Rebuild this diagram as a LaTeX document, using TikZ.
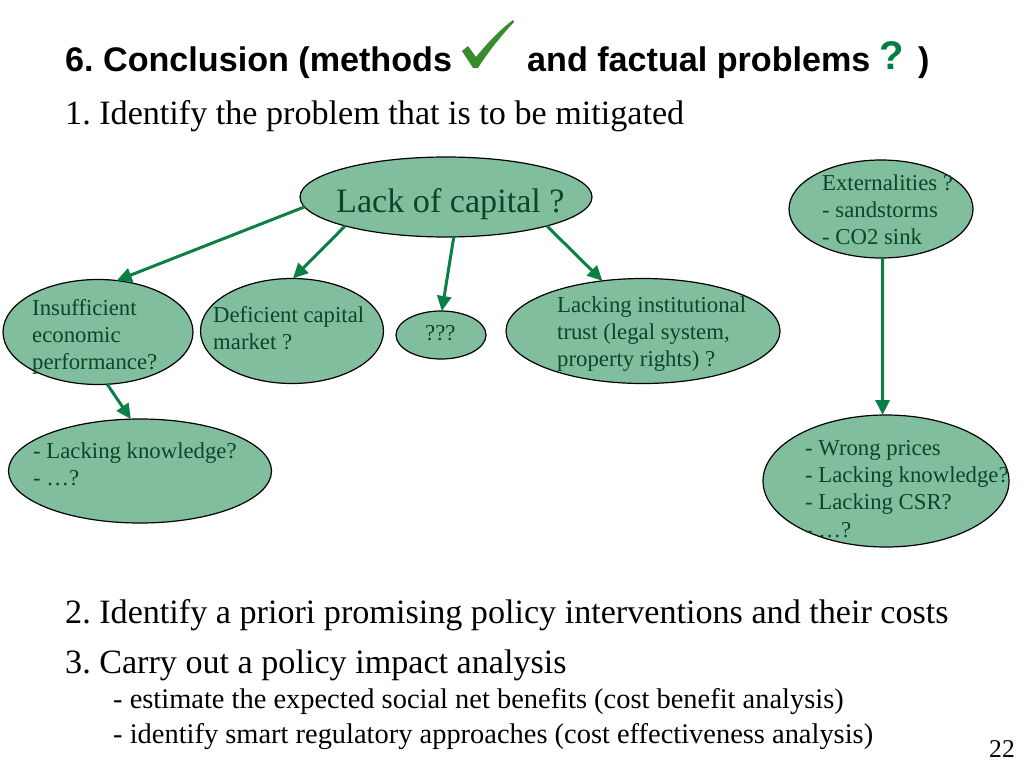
\documentclass[tikz,border=0pt]{standalone}
\usepackage{fontspec}
\setmainfont{Liberation Serif}
\newfontfamily\titlefont{Liberation Sans}
\usetikzlibrary{arrows.meta,shapes.geometric}
\definecolor{ellfill}{RGB}{128,190,158}
\definecolor{elltext}{RGB}{10,70,40}
\definecolor{arrowgreen}{RGB}{10,128,70}
\definecolor{checkgreen}{RGB}{55,140,45}
\definecolor{qgreen}{RGB}{0,125,65}
\newcommand\mlines[1]{\vtop{\halign{##\hfil\cr#1\crcr}}}
\frenchspacing
\begin{document}
\begin{tikzpicture}[x=1pt,y=-1pt,
  ell/.style={ellipse,draw=black,line width=1.2pt,fill=ellfill,inner sep=0pt,outer sep=0pt},
  etext/.style={anchor=base west,inner sep=0pt,text=elltext,font=\fontsize{22.75}{27.4}\selectfont},
  body/.style={anchor=base west,inner sep=0pt,font=\fontsize{34.13}{40}\selectfont},
  sub/.style={anchor=base west,inner sep=0pt,font=\fontsize{28.44}{34}\selectfont},
  ttl/.style={anchor=base west,inner sep=0pt,font=\titlefont\bfseries\fontsize{34.13}{40}\selectfont},
  link/.style={draw=arrowgreen,line width=3pt,-{Triangle[length=15pt,width=14pt]}},
]
\fill[white] (0,0) rectangle (1024,768);
\useasboundingbox (0,0) rectangle (1024,768);

% title
\node[ttl] (t1) at (65,71) {6. Conclusion (methods};
\fill[checkgreen] (462,51) -- (468,46) -- (476,57) .. controls (489,41) and (501,29) .. (513,20) -- (514,22) .. controls (501,36) and (488,52) .. (478,68) -- (473,68) -- cycle;
\node[ttl] (t2) at (527,71) {and factual problems};
\node[anchor=base west,inner sep=0pt,text=qgreen,font=\titlefont\bfseries\fontsize{40}{44}\selectfont] (tq) at (879,69) {?};
\node[ttl] (t3) at (918,71) {)};

\node[body] (s1) at (65,124) {1. Identify the problem that is to be mitigated};

% ellipses
\node[ell,minimum width=292pt,minimum height=80pt] (lack) at (446,197) {};
\node[ell,minimum width=190pt,minimum height=105pt] (ins) at (98,332) {};
\node[ell,minimum width=183pt,minimum height=105pt] (def) at (292,331) {};
\node[ell,minimum width=90pt,minimum height=48pt] (qqq) at (441,335) {};
\node[ell,minimum width=274pt,minimum height=105pt] (inst) at (643,331) {};
\node[ell,minimum width=263pt,minimum height=104pt] (lk) at (140,471) {};
\node[ell,minimum width=184pt,minimum height=98pt] (ext) at (881,209) {};
\node[ell,minimum width=246pt,minimum height=132pt] (wrong) at (886,481) {};

% ellipse texts
\node[anchor=base west,inner sep=0pt,text=elltext,font=\fontsize{34.13}{40}\selectfont] (lackT) at (336,212) {Lack of capital ?};
\node[etext] (insT) at (32,315) {\mlines{Insufficient\cr economic\cr performance?}};
\node[etext] (defT) at (213,322) {\mlines{Deficient capital\cr market ?}};
\node[etext] (qqqT) at (425,340) {???};
\node[etext] (instT) at (557,312) {\mlines{Lacking institutional\cr trust (legal system,\cr property rights) ?}};
\node[etext] (lkT) at (33,458) {\mlines{- Lacking knowledge?\cr - \dots?}};
\node[etext] (extT) at (822,190) {\mlines{Externalities ?\cr - sandstorms\cr - CO2 sink}};
\node[etext] (wrongT) at (805,455) {\mlines{- Wrong prices\cr - Lacking knowledge?\cr - Lacking CSR?\cr - \dots?}};

% arrows
\draw[link] (lack.184) -- (ins.70);
\draw[link] (lack.196) -- (def.89);
\draw[link] (lack.281) -- (qqq.88);
\draw[link] (lack.344) -- (inst.129);
\draw[link] (ins.280) -- (lk.100);
\draw[link] (ext.272) -- (wrong.93);

% bottom text
\node[body] (s2) at (65,623) {2. Identify a priori promising policy interventions and their costs};
\node[body] (s3) at (65,673) {3. Carry out a policy impact analysis};
\node[sub] (s3a) at (113,708) {- estimate the expected social net benefits (cost benefit analysis)};
\node[sub] (s3b) at (113,743) {- identify smart regulatory approaches (cost effectiveness analysis)};
\node[anchor=base west,inner sep=0pt,font=\fontsize{25.6}{30}\selectfont] (pg) at (989,757) {22};
\end{tikzpicture}
\end{document}
